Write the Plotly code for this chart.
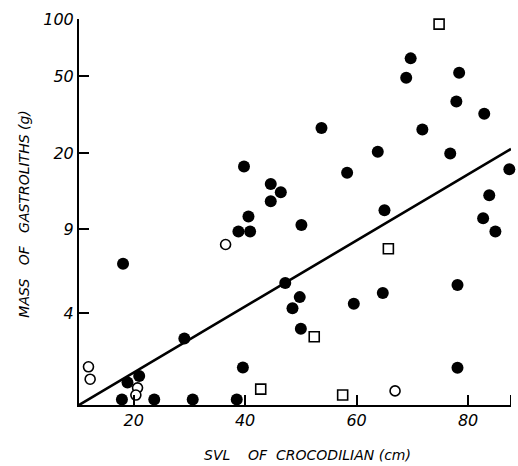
import numpy as np
import plotly.graph_objects as go

# ---- y-axis scale (gram tick values and their relative heights on the drawn axis)
Y_TICK_G = [0, 4, 9, 20, 50, 100]
Y_TICK_H = [0, 92, 176, 252, 329, 386]
Y_TICK_TEXT = ["", "4", "9", "20", "50", "100"]

X_TICKS = [20, 40, 60, 80]
X_RANGE = [10.2, 87.7]

# ---- data: SVL (cm) and mass of gastroliths (g)
filled_x = [53.7, 69.7, 68.9, 78.4, 77.9, 82.9, 71.8, 63.8, 76.8, 58.3,
            87.4, 83.8, 65.0, 82.7, 84.9, 78.1, 64.7, 59.5, 39.8, 44.6,
            46.4, 44.6, 40.6, 38.8, 40.9, 50.1, 47.2, 49.8, 48.5, 50.0,
            29.1, 39.6, 30.6, 38.5, 78.1, 18.1, 18.9, 21.0, 17.9, 23.7]
filled_y = [27.0, 62.0, 49.0, 52.0, 37.0, 32.0, 26.5, 20.3, 19.9, 16.3,
            16.9, 12.9, 11.0, 10.1, 8.8, 5.3, 4.9, 4.4, 17.4, 14.5,
            13.3, 12.1, 10.3, 8.8, 8.8, 9.4, 5.4, 4.7, 4.2, 2.8,
            2.2, 0.93, 0.1, 0.1, 0.92, 6.5, 0.48, 0.66, 0.1, 0.1]

open_x = [11.9, 12.2, 20.7, 20.4, 36.5, 66.9]
open_y = [0.95, 0.57, 0.35, 0.19, 7.8, 0.28]

square_x = [74.8, 65.7, 52.4, 42.8, 57.5]
square_y = [94.0, 7.5, 2.3, 0.32, 0.19]

line_x = [10.2, 87.7]
line_y = [0.0, 21.0]


def yscale(g):
    g = np.asarray(g, dtype=float)
    return np.interp(np.log1p(g), np.log1p(Y_TICK_G), Y_TICK_H)


FONT = "DejaVu Sans"
NB = "\u00a0"

fig = go.Figure()
fig.add_trace(go.Scatter(x=line_x, y=yscale(line_y), mode="lines",
                         line=dict(color="black", width=2.6),
                         hoverinfo="skip", cliponaxis=False))
fig.add_trace(go.Scatter(x=filled_x, y=yscale(filled_y), mode="markers",
                         marker=dict(symbol="circle", size=12, color="black",
                                     line=dict(width=0)),
                         cliponaxis=False))
fig.add_trace(go.Scatter(x=open_x, y=yscale(open_y), mode="markers",
                         marker=dict(symbol="circle", size=10, color="white",
                                     line=dict(color="black", width=1.6)),
                         cliponaxis=False))
fig.add_trace(go.Scatter(x=square_x, y=yscale(square_y), mode="markers",
                         marker=dict(symbol="square", size=10, color="white",
                                     line=dict(color="black", width=1.6)),
                         cliponaxis=False))

# end tick at the right of the x axis
fig.add_shape(type="line", xref="x", yref="y", x0=X_RANGE[1], x1=X_RANGE[1],
              y0=0, y1=10, line=dict(color="black", width=2))

fig.update_layout(
    width=518, height=466,
    margin=dict(l=79, r=7, t=19, b=61),
    paper_bgcolor="white", plot_bgcolor="white",
    showlegend=False,
    font=dict(family=FONT, color="black"),
    xaxis=dict(range=X_RANGE, tickvals=X_TICKS, ticktext=[str(v) for v in X_TICKS],
               ticks="inside", ticklen=10, tickwidth=2, tickcolor="black",
               showline=True, linecolor="black", linewidth=2,
               showgrid=False, zeroline=False,
               tickfont=dict(size=16, style="italic", family=FONT)),
    yaxis=dict(range=[0, 386], tickvals=yscale(Y_TICK_G).tolist(), ticktext=Y_TICK_TEXT,
               ticks="inside", ticklen=10, tickwidth=2, tickcolor="black",
               showline=True, linecolor="black", linewidth=2,
               showgrid=False, zeroline=False,
               tickfont=dict(size=16, style="italic", family=FONT)),
    annotations=[
        dict(text="SVL" + NB * 4 + "OF" + NB * 2 + "CROCODILIAN (cm)", xref="paper", yref="paper",
             x=0.528, y=-0.13, xanchor="center", yanchor="middle", showarrow=False,
             font=dict(size=14, style="italic", family=FONT)),
        dict(text="MASS" + NB * 3 + "OF" + NB * 3 + "GASTROLITHS (g)", xref="paper", yref="paper",
             x=-0.128, y=0.495, xanchor="center", yanchor="middle", showarrow=False,
             textangle=-90, font=dict(size=14, style="italic", family=FONT)),
    ],
)

fig.write_html("out.html")
